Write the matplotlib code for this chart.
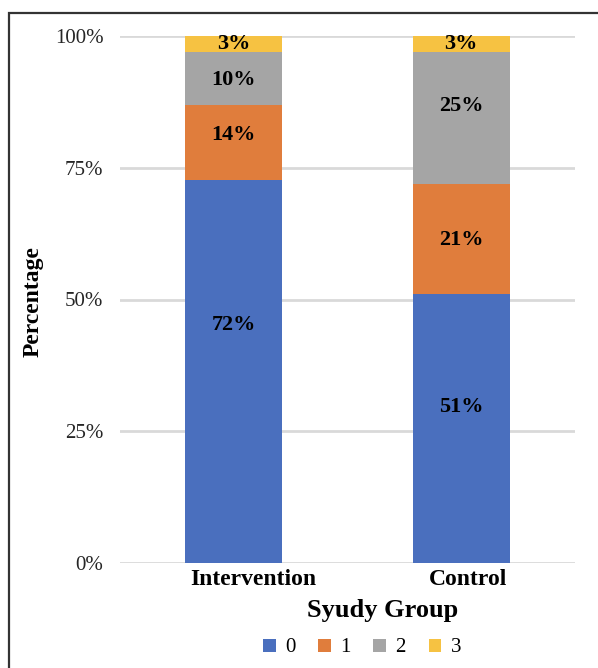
import numpy as np
import matplotlib
matplotlib.use("Agg")
import matplotlib.pyplot as plt
import matplotlib.transforms as mtransforms
from matplotlib.patches import Rectangle
from matplotlib.ticker import PercentFormatter

plt.rcParams['font.family'] = ['Liberation Serif', 'DejaVu Serif']

# data
groups = ["Intervention", "Control"]
levels = ["0", "1", "2", "3"]
score_0 = [72, 51]
score_1 = [14, 21]
score_2 = [10, 25]
score_3 = [3, 3]
colors = ["#4a6fbe", "#e07d3c", "#a5a5a5", "#f6c242"]
# where each label sits inside its segment (fraction of segment height)
label_pos = [[0.62, 0.58], [0.6, 0.49], [0.47, 0.59], [0.5, 0.5]]

series = np.array([score_0, score_1, score_2, score_3], dtype=float)
shares = series / series.sum(axis=0) * 100  # 100% stacked

fig = plt.figure(figsize=(5.98, 6.68), dpi=100)
ax = fig.add_axes([120 / 598, 105 / 668, 455 / 598, 527 / 668])

x = np.arange(len(groups))
bottom = np.zeros(len(groups))
for i, lev in enumerate(levels):
    ax.bar(x, shares[i], width=0.425, bottom=bottom, color=colors[i],
           label=lev, zorder=3)
    for xi, b, h, v, f in zip(x, bottom, shares[i], series[i], label_pos[i]):
        ax.text(xi, b + h * f, f"{int(v)}%", ha="center", va="center",
                fontsize=16, fontweight="bold", color="black", zorder=4)
    bottom += shares[i]

ax.set_xlim(-0.5, 1.5)
ax.set_ylim(0, 100)
ax.set_yticks([0, 25, 50, 75, 100])
ax.yaxis.set_major_formatter(PercentFormatter(decimals=0))
ax.grid(axis="y", color="#d9d9d9", linewidth=2, zorder=0)
for s in ax.spines.values():
    s.set_visible(False)
ax.tick_params(axis="y", length=0, pad=12, labelsize=15, labelcolor="#262626")
ax.tick_params(axis="x", length=0, pad=4, labelsize=17)
ax.set_xticks(x)
ax.set_xticklabels(groups, fontweight="bold")
# shift category labels slightly right like the original
for lab, dx in zip(ax.get_xticklabels(), [20, 7]):
    lab.set_transform(lab.get_transform() +
                      mtransforms.ScaledTranslation(dx / 100, 0, fig.dpi_scale_trans))

fig.text(383 / 598, 1 - 610 / 668, "Syudy Group", ha="center", va="center",
         fontsize=19, fontweight="bold")
fig.text(33 / 598, 1 - 302 / 668, "Percentage", ha="center", va="center",
         rotation=90, fontsize=17, fontweight="bold")

leg = fig.legend(loc="center", bbox_to_anchor=(362 / 598, 1 - 648 / 668), ncol=4,
                 frameon=False, fontsize=15, handlelength=0.6, handleheight=0.6,
                 handletextpad=0.45, columnspacing=1.1)

fig.patches.append(Rectangle((8.5 / 598, -0.1), 1.2, 1 - 13.5 / 668 + 0.1,
                             transform=fig.transFigure, fill=False,
                             edgecolor="#333333", linewidth=1.6))

fig.savefig("out.png", dpi=100)
